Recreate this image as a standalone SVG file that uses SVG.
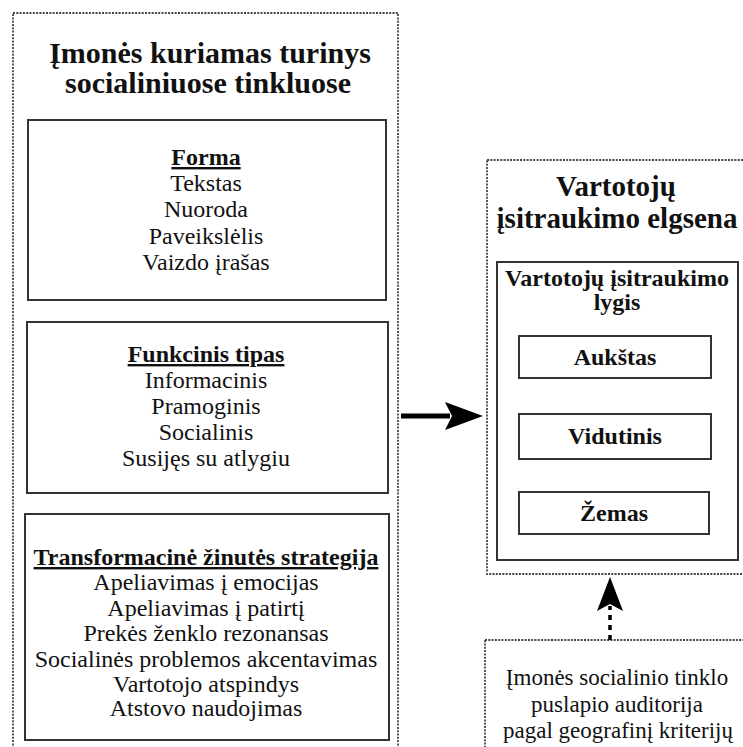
<svg xmlns="http://www.w3.org/2000/svg" width="743" height="747" viewBox="0 0 743 747">
  <style>
    .frame { fill: #fff; stroke: #444; stroke-width: 1.8; stroke-dasharray: 2 1.3; }
    .box { fill: #fff; stroke: #333; stroke-width: 2; }
    .t { font-family: "Liberation Serif", "Times New Roman", serif; fill: #111; text-anchor: middle; }
    .title { font-size: 29px; font-weight: bold; }
    .head { font-size: 24px; font-weight: bold; text-decoration: underline; }
    .item { font-size: 24px; }
    .lvl { font-size: 24px; font-weight: bold; }
    .note { font-size: 23px; }
    .link { stroke: #000; fill: none; }
  </style>

  <!-- left column: company content -->
  <g id="content">
    <rect class="frame" x="13" y="13" width="385" height="760"/>
    <text class="t title" x="210" y="63" style="font-size:30px">Įmonės kuriamas turinys</text>
    <text class="t title" x="208" y="93" style="font-size:30px">socialiniuose tinkluose</text>
  </g>

  <g id="forma">
    <rect class="box" x="28" y="120" width="358" height="180"/>
    <text class="t head" x="206" y="165">Forma</text>
    <text class="t item" x="206" y="191">Tekstas</text>
    <text class="t item" x="206" y="217">Nuoroda</text>
    <text class="t item" x="206" y="244">Paveikslėlis</text>
    <text class="t item" x="206" y="270">Vaizdo įrašas</text>
  </g>

  <g id="funkcinis">
    <rect class="box" x="27" y="322" width="361" height="171"/>
    <text class="t head" x="206" y="362">Funkcinis tipas</text>
    <text class="t item" x="206" y="388">Informacinis</text>
    <text class="t item" x="206" y="414">Pramoginis</text>
    <text class="t item" x="206" y="440">Socialinis</text>
    <text class="t item" x="206" y="466">Susijęs su atlygiu</text>
  </g>

  <g id="strategija">
    <rect class="box" x="25" y="514" width="364" height="226"/>
    <text class="t head" x="206" y="565">Transformacinė žinutės strategija</text>
    <text class="t item" x="206" y="590">Apeliavimas į emocijas</text>
    <text class="t item" x="206" y="616">Apeliavimas į patirtį</text>
    <text class="t item" x="206" y="641">Prekės ženklo rezonansas</text>
    <text class="t item" x="206" y="667">Socialinės problemos akcentavimas</text>
    <text class="t item" x="206" y="692">Vartotojo atspindys</text>
    <text class="t item" x="206" y="716">Atstovo naudojimas</text>
  </g>

  <!-- right column: engagement behaviour -->
  <g id="elgsena">
    <rect class="frame" x="487" y="160" width="300" height="414"/>
    <text class="t title" x="616" y="196">Vartotojų</text>
    <text class="t title" x="617" y="228">įsitraukimo elgsena</text>
  </g>

  <g id="lygis">
    <rect class="box" x="497" y="262" width="241" height="298"/>
    <text class="t lvl" x="617" y="286">Vartotojų įsitraukimo</text>
    <text class="t lvl" x="617" y="310">lygis</text>
  </g>

  <g id="aukstas">
    <rect class="box" x="519" y="336" width="192" height="42"/>
    <text class="t lvl" x="615" y="365">Aukštas</text>
  </g>

  <g id="vidutinis">
    <rect class="box" x="519" y="414" width="192" height="45"/>
    <text class="t lvl" x="615" y="444">Vidutinis</text>
  </g>

  <g id="zemas">
    <rect class="box" x="519" y="492" width="190" height="42"/>
    <text class="t lvl" x="614" y="521">Žemas</text>
  </g>

  <!-- audience source box -->
  <g id="auditorija">
    <rect class="frame" x="485" y="640" width="300" height="140"/>
    <text class="t note" x="617" y="685">Įmonės socialinio tinklo</text>
    <text class="t note" x="617" y="712">puslapio auditorija</text>
    <text class="t note" x="618" y="738">pagal geografinį kriterijų</text>
  </g>

  <!-- connectors -->
  <g id="connectors">
    <line class="link" x1="401" y1="416" x2="450" y2="416" stroke-width="5"/>
    <polygon points="483,416 445,402 452,416 445,430" fill="#000"/>
    <line class="link" x1="610" y1="640" x2="610" y2="606" stroke-width="3.5" stroke-dasharray="5 5"/>
    <polygon points="610,577 623,611 610,604 597,611" fill="#000"/>
  </g>
</svg>
